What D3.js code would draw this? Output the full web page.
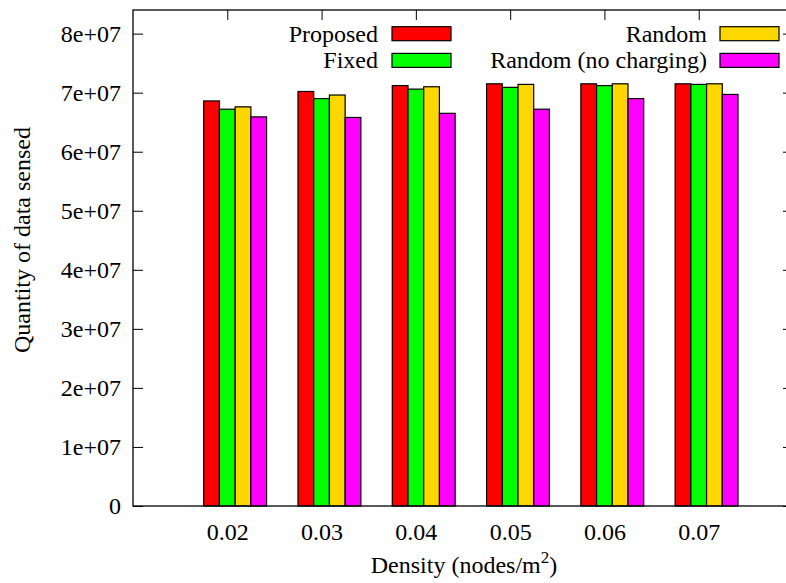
<!DOCTYPE html>
<html>
<head>
<meta charset="utf-8">
<script src="https://cdn.jsdelivr.net/npm/d3@7"></script>
<style>
    body { margin: 0; background: #fff; }
</style>
</head>
<body>
<div id="chart"></div>
<script>
// data
const densities = ["0.02", "0.03", "0.04", "0.05", "0.06", "0.07"];
const seriesNames = ["Proposed", "Fixed", "Random", "Random (no charging)"];
const proposed = [6.86e7, 7.02e7, 7.12e7, 7.15e7, 7.15e7, 7.15e7];
const fixed = [6.72e7, 6.90e7, 7.06e7, 7.09e7, 7.12e7, 7.14e7];
const randomMode = [6.76e7, 6.96e7, 7.10e7, 7.14e7, 7.15e7, 7.15e7];
const randomNoCharge = [6.59e7, 6.58e7, 6.65e7, 6.72e7, 6.90e7, 6.97e7];
const yTicks = [0, 1e7, 2e7, 3e7, 4e7, 5e7, 6e7, 7e7, 8e7];

const colors = ["#ff0000", "#00ff00", "#ffd700", "#ff00ff"];
const allSeries = [proposed, fixed, randomMode, randomNoCharge];
const serif = "'Liberation Serif', 'Times New Roman', 'DejaVu Serif', serif";

let margin = {top: 10, right: -7, bottom: 77, left: 133};
let width = 786 - margin.left - margin.right;
let height = 583 - margin.top - margin.bottom;

let svg = d3.select("#chart").append("svg")
    .attr("width", 786)
    .attr("height", 583)
    .append("g")
    .attr("transform", "translate(" + margin.left + "," + margin.top + ")");

// x position: category index, plot spans -1 .. 6
let x = d3.scaleLinear().domain([-1, 6]).range([0, width]);
let y = d3.scaleLinear().domain([0, 8.4e7]).range([height, 0]);
let barW = (x(1) - x(0)) / 6;

let fmt = d => d === 0 ? "0" : (d / 1e7) + "e+07";

// y axis ticks (left + mirrored right)
let yAxis = d3.axisLeft(y).tickValues(yTicks).tickFormat(fmt).tickSize(-10).tickPadding(12);
let yg = svg.append("g").call(yAxis);
yg.select(".domain").remove();
yg.selectAll("text").attr("dy", "0.33em");

let yAxisR = d3.axisRight(y).tickValues(yTicks).tickFormat("").tickSize(-10);
let yr = svg.append("g").attr("transform", "translate(" + width + ",0)").call(yAxisR);
yr.select(".domain").remove();

// x ticks bottom and top
let xIdx = densities.map((d, i) => i);
let xAxis = d3.axisBottom(x).tickValues(xIdx).tickFormat(i => densities[i]).tickSize(-10).tickPadding(17);
let xg = svg.append("g").attr("transform", "translate(0," + height + ")").call(xAxis);
xg.select(".domain").remove();

let xAxisT = d3.axisTop(x).tickValues(xIdx).tickFormat("").tickSize(-10);
let xt = svg.append("g").call(xAxisT);
xt.select(".domain").remove();

svg.selectAll(".tick line").attr("stroke", "#000");

// bars
allSeries.forEach((vals, s) => {
    svg.selectAll(".bar" + s)
        .data(vals)
        .enter().append("rect")
        .attr("class", "bar" + s)
        .attr("x", (d, i) => x(i) + (s - 1.5) * barW)
        .attr("width", barW)
        .attr("y", d => y(d))
        .attr("height", d => y(0) - y(d))
        .attr("fill", colors[s])
        .attr("stroke", "#000")
        .attr("stroke-width", 1.2);
});

// frame
svg.append("rect")
    .attr("x", 0).attr("y", 0)
    .attr("width", width).attr("height", height)
    .attr("fill", "none")
    .attr("stroke", "#000")
    .attr("stroke-width", 1.3);

// legend (two columns)
let legendCols = [
    {textX: 245, boxX: 259, items: [0, 1]},
    {textX: 574, boxX: 587, items: [2, 3]}
];
legendCols.forEach(col => {
    col.items.forEach((s, r) => {
        let cy = 23.7 + r * 26.7;
        svg.append("text")
            .attr("x", col.textX)
            .attr("y", cy)
            .attr("dy", "0.33em")
            .attr("text-anchor", "end")
            .text(seriesNames[s]);
        svg.append("rect")
            .attr("x", col.boxX)
            .attr("y", cy - 7)
            .attr("width", 59)
            .attr("height", 14)
            .attr("fill", colors[s])
            .attr("stroke", "#000")
            .attr("stroke-width", 1.2);
    });
});

// axis labels
svg.append("text")
    .attr("transform", "translate(" + (22 - margin.left) + "," + (240 - margin.top) + ") rotate(-90)")
    .attr("dy", "0.33em")
    .attr("text-anchor", "middle")
    .text("Quantity of data sensed");

let xl = svg.append("text")
    .attr("x", 464 - margin.left)
    .attr("y", 573 - margin.top)
    .attr("text-anchor", "middle");
xl.append("tspan").text("Density (nodes/m");
xl.append("tspan").attr("dy", "-10").text("2");
xl.append("tspan").attr("dy", "10").text(")");

// serif font everywhere
d3.selectAll("svg text")
    .style("font-family", serif)
    .style("font-size", "24px")
    .attr("fill", "#000");
xl.selectAll("tspan").filter((d, i) => i === 1).style("font-size", "17px");
</script>
</body>
</html>
